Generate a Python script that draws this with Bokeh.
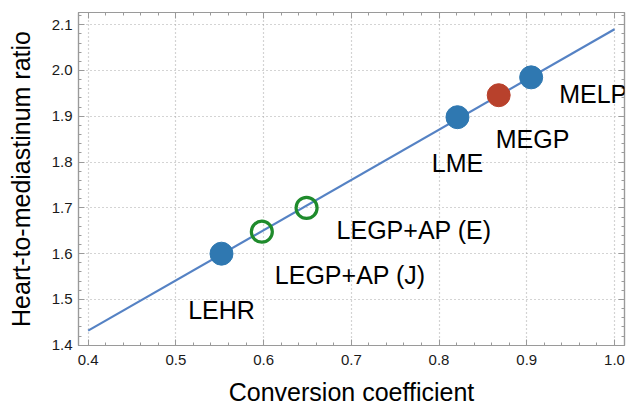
from bokeh.plotting import figure
from bokeh.models import LinearAxis, Range1d, Label, FixedTicker, PrintfTickFormatter
from bokeh.embed import file_html
from bokeh.resources import INLINE

# data
names = ["LEHR", "LEGP+AP (J)", "LEGP+AP (E)", "LME", "MEGP", "MELP"]
conv = [0.552, 0.598, 0.649, 0.821, 0.868, 0.905]
hmr = [1.600, 1.648, 1.700, 1.898, 1.946, 1.985]
kind = ["filled", "open", "open", "filled", "red", "filled"]
fit_x = [0.4, 1.0]
fit_y = [1.432, 2.090]
x_ticks = [0.4, 0.5, 0.6, 0.7, 0.8, 0.9, 1.0]
y_ticks = [1.4, 1.5, 1.6, 1.7, 1.8, 1.9, 2.0, 2.1]

FONT = "Liberation Sans"
BLUE = "#2f78b1"
RED = "#b8412c"
GREEN = "#1f8b2c"
LINE = "#5582c4"
FRAME = "#9a9a9a"

p = figure(width=629, height=408, output_backend="svg", toolbar_location=None,
           x_range=Range1d(0.389, 1.0114), y_range=Range1d(1.3995, 2.1266),
           min_border_left=78, min_border_right=5, min_border_top=12, min_border_bottom=60)
p.outline_line_color = FRAME
p.outline_line_width = 1.2
p.background_fill_color = "white"
p.border_fill_color = "white"

bottom = p.below[0]
left = p.left[0]


def style_axis(ax, ticks, show_labels):
    ax.ticker = FixedTicker(ticks=ticks, minor_ticks=[round(ticks[0] - 0.1 + i * 0.02, 3)
                                                      for i in range(0, (len(ticks) + 1) * 5 + 1)])
    ax.axis_line_color = FRAME
    ax.axis_line_width = 1.2
    ax.major_tick_line_color = FRAME
    ax.minor_tick_line_color = FRAME
    ax.major_tick_in = 6
    ax.major_tick_out = 0
    ax.minor_tick_in = 3
    ax.minor_tick_out = 0
    ax.major_label_text_font = FONT
    ax.formatter = PrintfTickFormatter(format="%.1f")
    if show_labels:
        ax.major_label_text_font_size = "15px"
        ax.major_label_text_color = "#1a1a1a"
    else:
        ax.major_label_text_font_size = "0px"
        ax.major_label_text_color = None
        ax.major_label_standoff = 0


style_axis(bottom, x_ticks, True)
style_axis(left, y_ticks, True)
bottom.major_label_standoff = 9
left.major_label_standoff = 6

top = LinearAxis()
right = LinearAxis()
style_axis(top, x_ticks, False)
style_axis(right, y_ticks, False)
p.add_layout(top, "above")
p.add_layout(right, "right")

bottom.axis_label = "Conversion coefficient"
left.axis_label = "Heart-to-mediastinum ratio"
for ax in (bottom, left):
    ax.axis_label_text_font = FONT
    ax.axis_label_text_font_size = "25px"
    ax.axis_label_text_font_style = "normal"
    ax.axis_label_text_color = "black"
bottom.axis_label_standoff = 10
left.axis_label_standoff = 14

p.xgrid.ticker = FixedTicker(ticks=x_ticks)
p.ygrid.ticker = FixedTicker(ticks=y_ticks)
for g in (p.xgrid, p.ygrid):
    g.grid_line_color = "#a8a8a8"
    g.grid_line_dash = "1 3"
    g.grid_line_width = 1.2

p.line(fit_x, fit_y, line_color=LINE, line_width=2.2)


def subset(k):
    idx = [i for i, v in enumerate(kind) if v == k]
    return [conv[i] for i in idx], [hmr[i] for i in idx]


fx, fy = subset("filled")
p.scatter(fx, fy, size=23, fill_color=BLUE, line_color=BLUE)
rx, ry = subset("red")
p.scatter(rx, ry, size=23, fill_color=RED, line_color=RED)
ox, oy = subset("open")
p.scatter(ox, oy, size=21, fill_color=None, line_color=GREEN, line_width=3.2)

# label placement (pixel offsets from each point) - styling only
offsets = {
    "LEHR": (0, -56, "center"),
    "LEGP+AP (J)": (13, -43, "left"),
    "LEGP+AP (E)": (30, -22, "left"),
    "LME": (0, -46, "center"),
    "MEGP": (-3, -44, "left"),
    "MELP": (28, -17, "left"),
}
for n, x, y in zip(names, conv, hmr):
    dx, dy, al = offsets[n]
    p.add_layout(Label(x=x, y=y, text=n, x_offset=dx, y_offset=dy, text_align=al,
                       text_baseline="alphabetic", text_font=FONT, text_font_size="25px",
                       text_color="black"))

open("out.html", "w").write(file_html(p, INLINE))
